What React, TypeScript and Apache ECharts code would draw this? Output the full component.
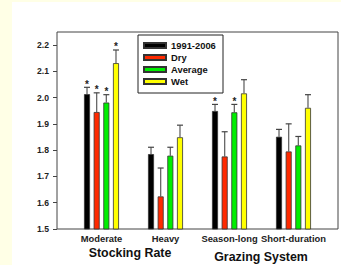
import React, { useEffect, useRef } from "react";
import * as echarts from "echarts";

const categories = ["Moderate", "Heavy", "Season-long", "Short-duration"];
const seriesNames = ["1991-2006", "Dry", "Average", "Wet"];
const yTicks = [1.5, 1.6, 1.7, 1.8, 1.9, 2.0, 2.1, 2.2];

const means1991 = [2.013, 1.785, 1.949, 1.851];
const meansDry = [1.945, 1.624, 1.776, 1.795];
const meansAverage = [1.981, 1.779, 1.944, 1.818];
const meansWet = [2.131, 1.849, 2.016, 1.961];

const upper1991 = [2.039, 1.811, 1.974, 1.879];
const upperDry = [2.018, 1.732, 1.87, 1.9];
const upperAverage = [2.011, 1.811, 1.974, 1.852];
const upperWet = [2.181, 1.895, 2.068, 2.011];

const stars1991 = [1, 0, 1, 0];
const starsDry = [1, 0, 0, 0];
const starsAverage = [1, 0, 1, 0];
const starsWet = [1, 0, 0, 0];

const groupTitles = ["Stocking Rate", "Grazing System"];

const FONT = "'Liberation Sans', Arial, sans-serif";
const colors = ["#000000", "#FF2A00", "#00EE00", "#FFFF00"];
const BAR_W = 6;
const BAR_STEP = 9.66;

export default function App() {
  const ref = useRef<HTMLDivElement>(null);
  useEffect(() => {
    if (!ref.current) return;
    const chart = echarts.init(ref.current, null, { renderer: "svg" });
    const means = [means1991, meansDry, meansAverage, meansWet];
    const uppers = [upper1991, upperDry, upperAverage, upperWet];
    const stars = [stars1991, starsDry, starsAverage, starsWet];

    const errData: number[][] = [];
    means.forEach((m, s) => {
      m.forEach((v, c) => {
        errData.push([c, uppers[s][c], v, s, stars[s][c]]);
      });
    });

    const barSeries = seriesNames.map((name, s) => ({
      name,
      type: "bar",
      data: means[s],
      barWidth: BAR_W,
      barGap: "61%",
      itemStyle: { color: colors[s], borderColor: "#333", borderWidth: 0.8 },
      z: 3,
    }));

    chart.setOption({
      animation: false,
      backgroundColor: "transparent",
      textStyle: { fontFamily: FONT },
      grid: { left: 69.5, width: 256, top: 45, height: 184, containLabel: false },
      xAxis: {
        type: "category",
        data: categories,
        axisLine: { show: false },
        axisTick: { show: false },
        axisLabel: {
          fontFamily: FONT,
          fontSize: 9.4,
          fontWeight: "bold",
          color: "#222",
          margin: 5,
          interval: 0,
        },
      },
      yAxis: {
        type: "value",
        min: 1.5,
        max: 2.2,
        interval: 0.1,
        offset: 12.5,
        splitLine: { show: false },
        axisLine: { show: false },
        axisTick: { show: true, length: 4, lineStyle: { color: "#444" } },
        axisLabel: {
          fontFamily: FONT,
          fontSize: 8.6,
          fontWeight: "bold",
          color: "#222",
          margin: 8,
          formatter: (v: number) => {
            const t = yTicks.find((x) => Math.abs(x - v) < 1e-6);
            return (t !== undefined ? t : v).toFixed(1);
          },
        },
      },
      legend: {
        data: seriesNames,
        orient: "vertical",
        left: 143,
        top: 40,
        padding: 0,
        itemWidth: 22,
        itemHeight: 5,
        itemGap: 1,
        icon: "rect",
        textStyle: {
          fontFamily: FONT,
          fontSize: 9.4,
          fontWeight: "bold",
          color: "#111",
          lineHeight: 11,
        },
      },
      graphic: [
        {
          type: "rect",
          shape: { x: 57, y: 32, width: 281, height: 197 },
          style: { fill: "none", stroke: "#444", lineWidth: 1 },
          silent: true,
        },
        {
          type: "rect",
          shape: { x: 138, y: 35, width: 85, height: 58 },
          style: { fill: "none", stroke: "#222", lineWidth: 1 },
          silent: true,
        },
        {
          type: "text",
          x: 130,
          y: 253,
          style: {
            text: groupTitles[0],
            fontFamily: FONT,
            fontSize: 12.4,
            fontWeight: "bold",
            fill: "#111",
            align: "center",
            verticalAlign: "middle",
          },
        },
        {
          type: "text",
          x: 261,
          y: 256.5,
          style: {
            text: groupTitles[1],
            fontFamily: FONT,
            fontSize: 12.4,
            fontWeight: "bold",
            fill: "#111",
            align: "center",
            verticalAlign: "middle",
          },
        },
      ],
      series: [
        ...barSeries,
        {
          type: "custom",
          name: "err",
          clip: false,
          z: 2,
          data: errData,
          encode: { x: 0, y: 1 },
          renderItem: (_params: any, api: any) => {
            const c = api.value(0);
            const top = api.value(1);
            const mean = api.value(2);
            const s = api.value(3);
            const star = api.value(4);
            const base = api.coord([c, top]);
            const x = base[0] + (s - 1.5) * BAR_STEP;
            const yTop = base[1];
            const yMean = api.coord([c, mean])[1];
            const children: any[] = [
              {
                type: "line",
                shape: { x1: x, y1: yMean, x2: x, y2: yTop },
                style: { stroke: "#666", lineWidth: 1.3 },
              },
              {
                type: "line",
                shape: { x1: x - 3, y1: yTop, x2: x + 3, y2: yTop },
                style: { stroke: "#444", lineWidth: 1.2 },
              },
            ];
            if (star) {
              children.push({
                type: "text",
                x,
                y: yTop - 3,
                style: {
                  text: "*",
                  fontFamily: FONT,
                  fontSize: 10,
                  fontWeight: "bold",
                  fill: "#222",
                  align: "center",
                  verticalAlign: "middle",
                },
              });
            }
            return { type: "group", children };
          },
        },
      ],
    });
    return () => chart.dispose();
  }, []);

  return (
    <div
      style={{
        position: "fixed",
        left: 0,
        top: 0,
        width: 341,
        height: 265,
        background: "#FFFFE6",
        overflow: "hidden",
      }}
    >
      <div
        style={{
          position: "absolute",
          left: 12,
          top: 2,
          width: 329,
          height: 263,
          background: "#FFFFFF",
        }}
      />
      <div
        ref={ref}
        style={{ position: "absolute", left: 0, top: 0, width: 341, height: 265 }}
      />
    </div>
  );
}
